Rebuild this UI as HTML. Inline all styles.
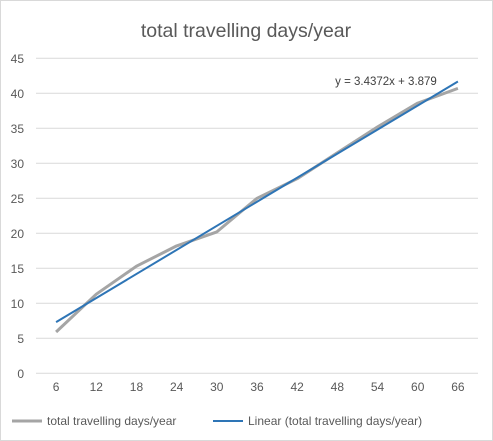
<!DOCTYPE html>
<html><head><meta charset="utf-8"><style>
body{margin:0;background:#fff;font-family:"Liberation Sans",sans-serif}
#c{position:absolute;left:0;top:0;width:491px;height:439px;border:1px solid #d9d9d9}
</style></head><body>
<div id="c"></div>
<svg id="s" width="493" height="441" style="position:absolute;left:0;top:0"></svg>
<script>
const categories=[6,12,18,24,30,36,42,48,54,60,66];
const values=[5.9,11.3,15.3,18.2,20.2,25,27.8,31.5,35.2,38.6,40.7];
const trendSlope=3.4372, trendIntercept=3.879;
const yTicks=[0,5,10,15,20,25,30,35,40,45];
const NS="http://www.w3.org/2000/svg", s=document.getElementById('s');
const L=36,R=478,T=58.3,B=373.3,yMax=45;
const bw=(R-L)/categories.length;
const x=i=>L+bw*(i+0.5), y=v=>B-(v/yMax)*(B-T);
function mk(t,a,txt){const e=document.createElementNS(NS,t);for(const k in a)e.setAttribute(k,a[k]);if(txt!=null)e.textContent=txt;s.appendChild(e);return e;}
let e=mk('text',{x:246,y:37,'text-anchor':'middle','font-size':19.5,fill:'#595959'},'total travelling days/year');


yTicks.forEach(v=>{
 let g=mk('line',{x1:L,x2:R,y1:y(v),y2:y(v),stroke:'#d9d9d9','stroke-width':1});
 
 
 let t=mk('text',{x:24,y:y(v)+4.5,'text-anchor':'end','font-size':12,fill:'#595959'},v);
 
 
});
categories.forEach((c,i)=>{
 let t=mk('text',{x:x(i),y:391,'text-anchor':'middle','font-size':12,fill:'#595959'},c);
 
 
});
let p=mk('polyline',{points:values.map((v,i)=>x(i)+','+y(v)).join(' '),fill:'none',stroke:'#a5a5a5','stroke-width':3,'stroke-linejoin':'round'});


const n=categories.length;
let tl=mk('line',{x1:x(0),y1:y(trendSlope*1+trendIntercept),x2:x(n-1),y2:y(trendSlope*n+trendIntercept),stroke:'#2e75b6','stroke-width':2});


let eq=mk('text',{x:386,y:85,'text-anchor':'middle','font-size':11.5,fill:'#404040'},'y = 3.4372x + 3.879');


let l1=mk('line',{x1:12,x2:42,y1:421,y2:421,stroke:'#a5a5a5','stroke-width':3});


let t1=mk('text',{x:47,y:425,'font-size':12,fill:'#595959'},'total travelling days/year');


let l2=mk('line',{x1:213,x2:243,y1:421,y2:421,stroke:'#2e75b6','stroke-width':2});


let t2=mk('text',{x:248,y:425,'font-size':12,fill:'#595959'},'Linear (total travelling days/year)');


</script>
</body></html>
